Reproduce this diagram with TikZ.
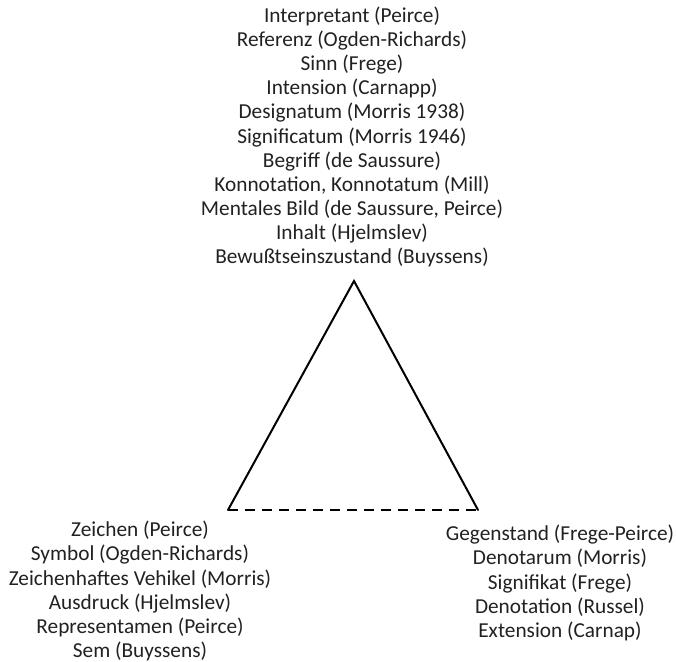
\documentclass[tikz,border=0pt]{standalone}
\usepackage{fontspec}
\setmainfont{Carlito}
\begin{document}
\begin{tikzpicture}[x=1pt,y=1pt,
  lbl/.style={align=center,inner sep=0pt,font=\fontsize{21.3}{24.1}\selectfont,text=black!87},
  side/.style={line width=2pt,line cap=round,line join=miter},
  base/.style={line width=2pt,dash pattern=on 10pt off 7pt}]
\useasboundingbox (0,0) rectangle (676,661);
\coordinate (apex) at (354,380);
\coordinate (bl) at (228,151);
\coordinate (br) at (478,151);
\node[lbl] (top) at (352,524) {Interpretant (Peirce)\\Referenz (Ogden-Richards)\\Sinn (Frege)\\Intension (Carnapp)\\Designatum (Morris 1938)\\Significatum (Morris 1946)\\Begriff (de Saussure)\\Konnotation, Konnotatum (Mill)\\Mentales Bild (de Saussure, Peirce)\\Inhalt (Hjelmslev)\\Bewußtseinszustand (Buyssens)};
\node[lbl] (left) at (140,70) {Zeichen (Peirce)\\Symbol (Ogden-Richards)\\Zeichenhaftes Vehikel (Morris)\\Ausdruck (Hjelmslev)\\Representamen (Peirce)\\Sem (Buyssens)};
\node[lbl] (right) at (560,78) {Gegenstand (Frege-Peirce)\\Denotarum (Morris)\\Signifikat (Frege)\\Denotation (Russel)\\Extension (Carnap)};
\draw[side] (bl) -- (apex) -- (br);
\draw[base] (bl) -- (br);
\end{tikzpicture}
\end{document}
